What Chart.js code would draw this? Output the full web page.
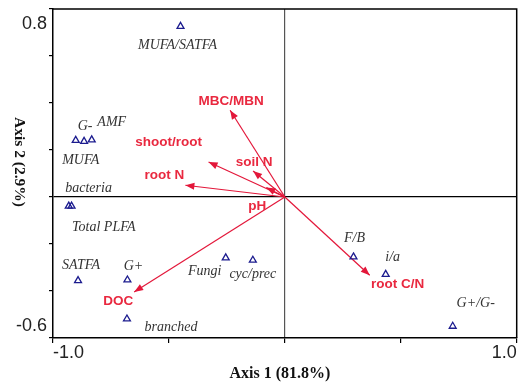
<!DOCTYPE html>
<html><head><meta charset="utf-8">
<script src="https://cdn.jsdelivr.net/npm/chart.js@4"></script>
<style>html,body{margin:0;padding:0;background:#fff;}#wrap{width:522px;height:384px;position:relative;}</style>
</head><body><div id="wrap"><canvas id="c"></canvas></div>
<script>
// ---- data ----
const speciesNames = ['MUFA/SATFA','MUFA','G-','AMF','Total PLFA','bacteria','SATFA','G+','branched','Fungi','cyc/prec','F/B','i/a','G+/G-'];
const speciesAxis1 = [-0.450,-0.902,-0.866,-0.833,-0.932,-0.920,-0.892,-0.679,-0.681,-0.255,-0.138,0.296,0.435,0.724];
const speciesAxis2 = [0.726,0.241,0.237,0.243,-0.039,-0.039,-0.356,-0.353,-0.519,-0.259,-0.269,-0.255,-0.329,-0.550];
const envNames = ['MBC/MBN','shoot/root','soil N','root N','pH','DOC','root C/N'];
const envAxis1 = [-0.236,-0.329,-0.137,-0.429,-0.080,-0.650,0.366];
const envAxis2 = [0.369,0.149,0.111,0.050,0.040,-0.404,-0.333];
const xTickValues = [-1, 1];
const xTickLabels = ['-1.0', '1.0'];
const yTickValues = [0.8, -0.6];
const yTickLabels = ['0.8', '-0.6'];
const xTitle = 'Axis 1 (81.8%)';
const yTitle = 'Axis 2 (2.9%)';

// ---- layout (label offsets in px) ----
const speciesLabelOffsets = [[-3,19],[5,20],[1,-15],[20,-18],[35,21],[17,-18],[3,-15],[6,-14],[44,8],[-21,13],[0,14],[1,-19],[7,-17],[23,-23]];
const envLabelOffsets = [[1,-9],[-40,-20],[1,-9],[-21,-10],[-9,19],[-16,9],[28,9]];

const RED = '#e3173a';
const RED_TXT = '#e9283f';
const NAVY = '#1c1c8f';

const isZero = v => Math.abs(v) < 1e-9;

const datasets = [{
  type: 'scatter',
  data: speciesAxis1.map((x, i) => ({x, y: speciesAxis2[i]})),
  pointStyle: 'triangle',
  radius: 4,
  borderColor: NAVY,
  backgroundColor: 'rgba(255,255,255,0)',
  borderWidth: 1.3
}];
envAxis1.forEach((x, i) => {
  datasets.push({
    type: 'line',
    data: [{x: 0, y: 0}, {x, y: envAxis2[i]}],
    borderColor: RED,
    borderWidth: 1.2,
    pointRadius: 0,
    fill: false
  });
});

const overlay = {
  id: 'overlay',
  afterDatasetsDraw(chart) {
    const {ctx, chartArea: a, scales: {x: sx, y: sy}} = chart;
    ctx.save();
    // arrowheads
    const ox = sx.getPixelForValue(0), oy = sy.getPixelForValue(0);
    envAxis1.forEach((v, i) => {
      const tx = sx.getPixelForValue(v), ty = sy.getPixelForValue(envAxis2[i]);
      const ang = Math.atan2(ty - oy, tx - ox);
      const L = 9, W = 3.5;
      const bx = tx - Math.cos(ang) * L, by = ty - Math.sin(ang) * L;
      ctx.beginPath();
      ctx.moveTo(tx, ty);
      ctx.lineTo(bx + Math.sin(ang) * W, by - Math.cos(ang) * W);
      ctx.lineTo(bx - Math.sin(ang) * W, by + Math.cos(ang) * W);
      ctx.closePath();
      ctx.fillStyle = RED;
      ctx.fill();
      // label
      ctx.font = 'bold 13.5px "Liberation Sans", Arial, sans-serif';
      ctx.fillStyle = RED_TXT;
      ctx.textAlign = 'center';
      ctx.textBaseline = 'middle';
      ctx.fillText(envNames[i], tx + envLabelOffsets[i][0], ty + envLabelOffsets[i][1]);
    });
    // species labels
    ctx.font = 'italic 14px "Liberation Serif", "Times New Roman", serif';
    ctx.fillStyle = '#333';
    ctx.textAlign = 'center';
    ctx.textBaseline = 'middle';
    speciesAxis1.forEach((v, i) => {
      const px = sx.getPixelForValue(v), py = sy.getPixelForValue(speciesAxis2[i]);
      ctx.fillText(speciesNames[i], px + speciesLabelOffsets[i][0], py + speciesLabelOffsets[i][1]);
    });
    // frame (top & right)
    ctx.strokeStyle = '#000';
    ctx.lineWidth = 1.5;
    ctx.beginPath();
    ctx.moveTo(a.left, a.top); ctx.lineTo(a.right, a.top); ctx.lineTo(a.right, a.bottom);
    ctx.stroke();
    // tick labels
    ctx.font = '18px "Liberation Sans", Arial, sans-serif';
    ctx.fillStyle = '#222';
    xTickValues.forEach((v, i) => {
      const px = sx.getPixelForValue(v);
      ctx.textAlign = i === 0 ? 'left' : 'right';
      ctx.textBaseline = 'middle';
      ctx.fillText(xTickLabels[i], px, a.bottom + 15);
    });
    yTickValues.forEach((v, i) => {
      const py = sy.getPixelForValue(v);
      ctx.textAlign = 'right';
      ctx.textBaseline = 'middle';
      ctx.fillText(yTickLabels[i], 47, py + (i === 0 ? 15 : -12));
    });
    // titles
    ctx.fillStyle = '#111';
    ctx.font = 'bold 16px "Liberation Serif", "Times New Roman", serif';
    ctx.textAlign = 'center';
    ctx.textBaseline = 'middle';
    ctx.fillText(xTitle, 280, 374);
    ctx.translate(19, 162);
    ctx.rotate(Math.PI / 2);
    ctx.font = 'bold 15.5px "Liberation Serif", "Times New Roman", serif';
    ctx.fillText(yTitle, 0, 0);
    ctx.restore();
  }
};

new Chart(document.getElementById('c'), {
  data: {datasets},
  options: {
    responsive: true,
    maintainAspectRatio: false,
    animation: false,
    events: [],
    layout: {padding: {top: 9, right: 1, left: 0, bottom: 0}},
    plugins: {legend: {display: false}, tooltip: {enabled: false}},
    scales: {
      x: {
        type: 'linear', min: -1, max: 1,
        ticks: {stepSize: 0.5, display: false},
        grid: {
          color: c => (c.tick && isZero(c.tick.value)) ? '#555' : 'rgba(0,0,0,0)',
          tickColor: '#000', tickLength: 5, lineWidth: 1.2
        },
        border: {display: true, color: '#000', width: 1.5},
        afterFit(s) { s.height = 46; }
      },
      y: {
        type: 'linear', min: -0.6, max: 0.8,
        ticks: {stepSize: 0.2, display: false},
        grid: {
          color: c => (c.tick && isZero(c.tick.value)) ? '#000' : 'rgba(0,0,0,0)',
          tickColor: '#000', tickLength: 4, lineWidth: 1.2
        },
        border: {display: true, color: '#000', width: 1.5},
        afterFit(s) { s.width = 53; }
      }
    }
  },
  plugins: [overlay]
});
</script>
</body></html>
